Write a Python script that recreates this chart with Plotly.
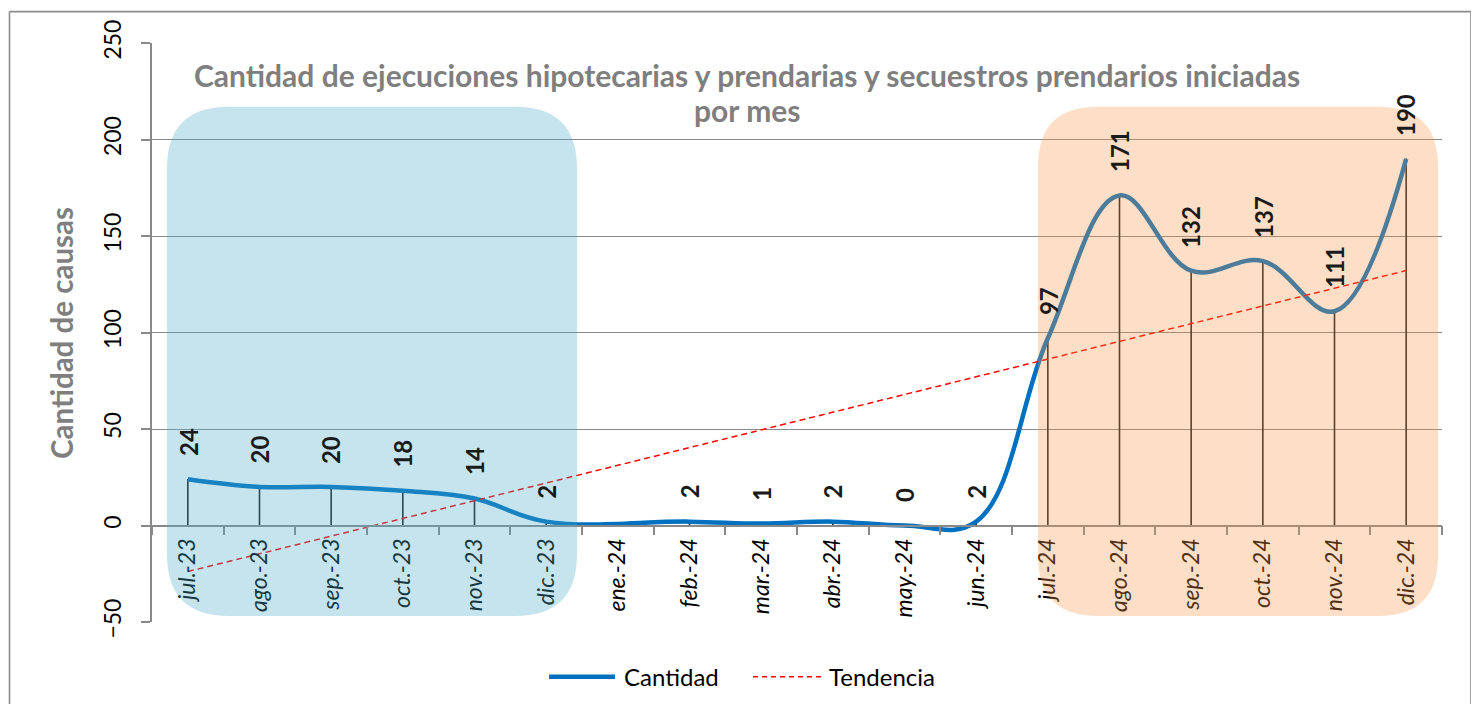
import numpy as np
import plotly.graph_objects as go

# ── Data ─────────────────────────────────────────────────────────────────────
months = ["jul.-23", "ago.-23", "sep.-23", "oct.-23", "nov.-23", "dic.-23",
          "ene.-24", "feb.-24", "mar.-24", "abr.-24", "may.-24", "jun.-24",
          "jul.-24", "ago.-24", "sep.-24", "oct.-24", "nov.-24", "dic.-24"]
cantidad = [24, 20, 20, 18, 14, 2, None, 2, 1, 2, 0, 2,
            97, 171, 132, 137, 111, 190]
y_ticks = [-50, 0, 50, 100, 150, 200, 250]

title_line1 = ("Cantidad de ejecuciones hipotecarias y prendarias y secuestros "
               "prendarios iniciadas")
title_line2 = "por mes"

# linear trend (Excel "Tendencia") fitted on the non-blank months
idx = np.arange(1, len(months) + 1)
mask = np.array([v is not None for v in cantidad])
vals = np.array([v if v is not None else np.nan for v in cantidad], dtype=float)
slope, intercept = np.polyfit(idx[mask], vals[mask], 1)
tendencia = list(slope * idx + intercept)

# ── Layout geometry (screen pixels; page body adds an offset) ───────────────
OX, OY = 8, 7
W, H = 1479 - OX - 2, 696
PL, PR, PT, PB = 152, 1442, 40, 621
PW, PH = PR - PL, PB - PT


def px_x(p):
    return (p - PL) / PW


def px_y(p):
    return (PB - p) / PH


def rounded_path(x0, x1, y0, y1, r):
    # rounded rectangle in pixels -> paper-coordinate SVG path
    pts = [
        ("M", [(x0 + r, y0)]),
        ("L", [(x1 - r, y0)]),
        ("Q", [(x1, y0), (x1, y0 + r)]),
        ("L", [(x1, y1 - r)]),
        ("Q", [(x1, y1), (x1 - r, y1)]),
        ("L", [(x0 + r, y1)]),
        ("Q", [(x0, y1), (x0, y1 - r)]),
        ("L", [(x0, y0 + r)]),
        ("Q", [(x0, y0), (x0 + r, y0)]),
    ]
    out = []
    for cmd, coords in pts:
        s = " ".join(f"{px_x(a):.5f},{px_y(b):.5f}" for a, b in coords)
        out.append(f"{cmd}{s}")
    return " ".join(out) + " Z"


FONT = "Lato, 'Open Sans', sans-serif"
GRID = "#898989"
BORDER = dict(color="#8c8c8c", width=1.6)

fig = go.Figure()

# drop lines from each point to the axis
fig.add_trace(go.Scatter(
    x=months, y=cantidad, mode="markers",
    marker=dict(size=1, color="#1a1a1a"),
    error_y=dict(type="data", symmetric=False,
                 array=[0] * len(months),
                 arrayminus=[v if v is not None else 0 for v in cantidad],
                 width=0, color="#1a1a1a", thickness=1.6),
    showlegend=False, hoverinfo="skip",
))

fig.add_trace(go.Scatter(
    x=months, y=cantidad, mode="lines", name="Cantidad",
    line=dict(color="#0070C0", width=4.5, shape="spline", smoothing=1.1),
    connectgaps=True, showlegend=False,
))

fig.add_trace(go.Scatter(
    x=months, y=tendencia, mode="lines", name="Tendencia",
    line=dict(color="#FF0000", width=1.5, dash="6px,4px"),
    showlegend=False,
))

# data labels
for m, v in zip(months, cantidad):
    if v is None:
        continue
    fig.add_annotation(
        x=m, y=v, text=f"<b>{v}</b>", showarrow=False,
        textangle=-90, yanchor="bottom", xanchor="center", yshift=21,
        font=dict(family=FONT, size=24, color="#1a1a1a"),
    )

bx0, bx1, by0, by1 = OX + 1.5, 1471, OY + 1.5, 760
shapes = [
    # shaded periods
    dict(type="path", xref="paper", yref="paper", layer="above",
         path=rounded_path(167, 577, 104, 615, 62),
         fillcolor="rgba(75,172,198,0.32)", line=dict(width=0)),
    dict(type="path", xref="paper", yref="paper", layer="above",
         path=rounded_path(1038, 1438, 104, 615, 60),
         fillcolor="rgba(247,150,70,0.31)", line=dict(width=0)),
    # outer chart border (drawn as separate edges)
    dict(type="line", xref="paper", yref="paper", layer="below",
         x0=px_x(bx0), x1=px_x(bx1), y0=px_y(by0), y1=px_y(by0), line=BORDER),
    dict(type="line", xref="paper", yref="paper", layer="below",
         x0=px_x(bx0), x1=px_x(bx0), y0=px_y(by0), y1=px_y(by1), line=BORDER),
    dict(type="line", xref="paper", yref="paper", layer="below",
         x0=px_x(bx1), x1=px_x(bx1), y0=px_y(by0), y1=px_y(by1), line=BORDER),
    # legend samples
    dict(type="line", xref="paper", yref="paper",
         x0=px_x(549), x1=px_x(615), y0=px_y(676), y1=px_y(676),
         line=dict(color="#0070C0", width=4.5)),
    dict(type="line", xref="paper", yref="paper",
         x0=px_x(753), x1=px_x(822), y0=px_y(676), y1=px_y(676),
         line=dict(color="#FF0000", width=1.5, dash="5px,4px")),
]

annotations = [
    dict(xref="paper", yref="paper", x=px_x(747), y=px_y(72),
         text=f"<b>{title_line1}</b>", showarrow=False,
         xanchor="center", yanchor="middle",
         font=dict(family=FONT, size=30, color="#7f7f7f")),
    dict(xref="paper", yref="paper", x=px_x(747), y=px_y(107),
         text=f"<b>{title_line2}</b>", showarrow=False,
         xanchor="center", yanchor="middle",
         font=dict(family=FONT, size=30, color="#7f7f7f")),
    dict(xref="paper", yref="paper", x=px_x(62), y=px_y(331),
         text="<b>Cantidad de causas</b>", showarrow=False, textangle=-90,
         xanchor="center", yanchor="middle",
         font=dict(family=FONT, size=29.5, color="#7f7f7f")),
    dict(xref="paper", yref="paper", x=px_x(622), y=px_y(676),
         text="Cantidad", showarrow=False, xanchor="left", yanchor="middle",
         font=dict(family=FONT, size=24, color="#000000")),
    dict(xref="paper", yref="paper", x=px_x(827), y=px_y(676),
         text="Tendencia", showarrow=False, xanchor="left", yanchor="middle",
         font=dict(family=FONT, size=24, color="#000000")),
]
for a in annotations:
    fig.add_annotation(**a)

fig.update_layout(
    width=W, height=H,
    margin=dict(l=PL - OX, r=W - (PR - OX), t=PT - OY, b=H - (PB - OY), pad=0),
    paper_bgcolor="white", plot_bgcolor="white",
    shapes=shapes, showlegend=False,
    font=dict(family=FONT, color="#000000"),
)

fig.update_xaxes(
    type="category", range=[-0.5, len(months) - 0.5],
    anchor="free", position=50 / 300,
    showline=True, linecolor=GRID, linewidth=1.5,
    ticks="outside", tickson="boundaries", ticklen=9, tickcolor=GRID,
    tickwidth=1.5, tickangle=-90, showgrid=False, zeroline=False,
    tickfont=dict(family=FONT, size=23, style="italic", color="#000000"),
    ticklabelstandoff=3,
)

fig.update_yaxes(
    range=[-50, 250], tickvals=y_ticks,
    showline=True, linecolor=GRID, linewidth=1.5,
    showgrid=True, gridcolor=GRID, gridwidth=1.3, zeroline=False,
    ticks="outside", ticklen=9, tickcolor=GRID, tickwidth=1.5,
    tickangle=-90, tickfont=dict(family=FONT, size=23, color="#000000"),
    ticklabelstandoff=11,
)

fig.write_html("out.html")
